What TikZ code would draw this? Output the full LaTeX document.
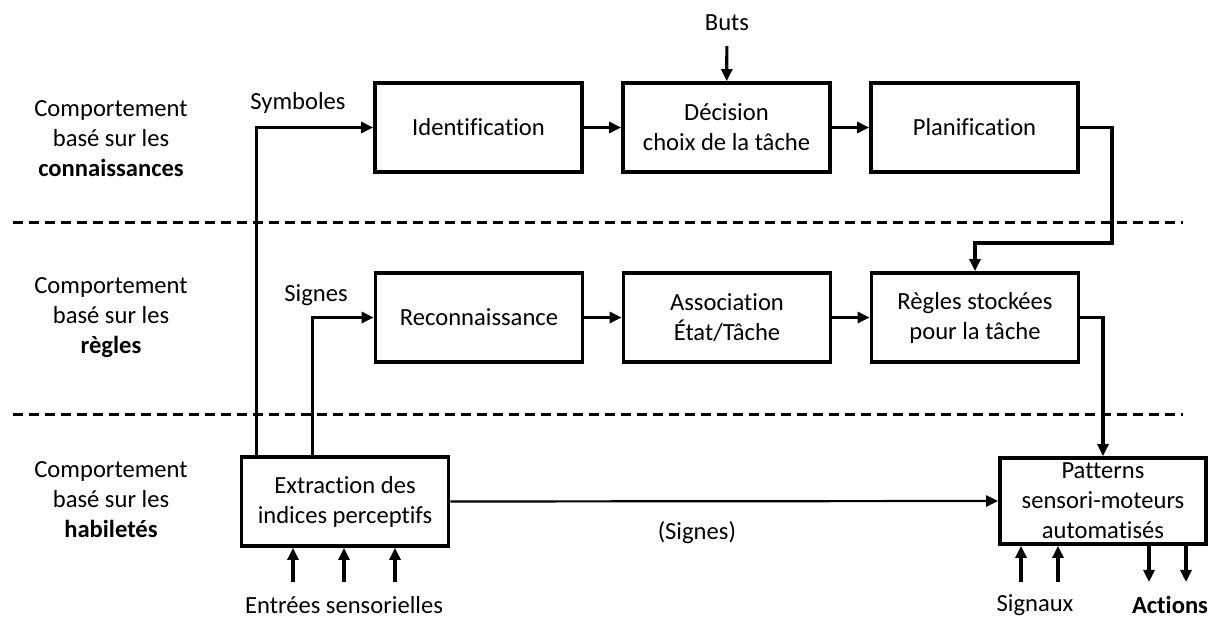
\documentclass[tikz,border=0pt]{standalone}
\usepackage{fontspec}
\setmainfont{Carlito}[Ligatures=NoCommon]
\tikzset{box/.style = {draw, line width=1.9pt, minimum width=103.5pt, minimum height=44.5pt, inner sep=1pt, align=center}}
\tikzset{flow/.style = {-{Triangle[length=6pt,width=5.5pt]}, line width=1.6pt}}
\tikzset{level/.style = {dash pattern=on 4.75pt off 3.25pt, line width=1.5pt}}
\tikzset{lbl/.style = {align=center}}
\usetikzlibrary{arrows.meta,calc}

\begin{document}
\begin{tikzpicture}[x=0.5pt, y=-0.5pt, font=\fontsize{12.3}{15}\selectfont]
      \useasboundingbox (0,0) rectangle (1211,619);
      \draw[level] (13,223) -- (1183,223);
      \draw[level] (13,415) -- (1183,415);
      \node[lbl] (know) at (111,139) {Comportement\\basé sur les\\\textbf{connaissances}};
      \node[lbl] (rule) at (111,318) {Comportement\\basé sur les\\\textbf{règles}};
      \node[lbl] (skill) at (111,500) {Comportement\\basé sur les\\\textbf{habiletés}};
      \node[box] (ident) at (478.5,127.5) {Identification};
      \node[box] (decis) at (726.5,127.5) {Décision\\choix de la tâche};
      \node[box] (planif) at (974.5,127.5) {Planification};
      \node[box] (recon) at (479,317.5) {Reconnaissance};
      \node[box] (assoc) at (727,317.5) {Association\\État/Tâche};
      \node[box] (regles) at (975,317.5) {Règles stockées\\pour la tâche};
      \node[box] (extract) at (345,501.5) {Extraction des\\indices perceptifs};
      \node[box, minimum width=103pt, minimum height=43pt] (patterns) at (1103,501) {Patterns\\sensori-moteurs\\automatisés};
      \node (buts) at (727,23) {Buts};
      \node (symb) at (298,103) {Symboles};
      \node (signes) at (316,295) {Signes};
      \node (entrees) at (344,605) {Entrées sensorielles};
      \node (signaux) at (1035,605) {Signaux};
      \node[font=\fontsize{12.3}{15}\selectfont\bfseries] (actions) at (1170,605) {Actions};
      \draw[flow, shorten <=4pt] (buts) -- (decis);
      \draw[flow] (ident) -- (decis);
      \draw[flow] (decis) -- (planif);
      \draw[flow] (recon) -- (assoc);
      \draw[flow] (assoc) -- (regles);
      \draw[flow] ([xshift=8.5pt]extract.north west) |- (ident.west);
      \draw[flow] ([xshift=36.5pt]extract.north west) |- (recon.west);
      \coordinate (bend) at (1112,243);
      \draw[flow] (planif.east) -| (bend) -| (regles.north);
      \draw[flow] (regles.east) -| (patterns.north);
      \draw[flow, line width=1.1pt] (extract.east) -- (patterns.west) node[pos=0.45, below=6pt] (sig2) {(Signes)};
      \foreach \x [count=\i] in {293,344,395} {
        \coordinate (in\i) at (\x,582);
        \draw[flow] (in\i) -- (in\i |- extract.south);
      }
      \foreach \x [count=\i] in {1021,1058} {
        \coordinate (sg\i) at (\x,582);
        \draw[flow] (sg\i) -- (sg\i |- patterns.south);
      }
      \foreach \x [count=\i] in {1149,1186} {
        \coordinate (act\i) at (\x,582);
        \draw[flow] (act\i |- patterns.south) -- (act\i);
      }
    \end{tikzpicture}
\end{document}
